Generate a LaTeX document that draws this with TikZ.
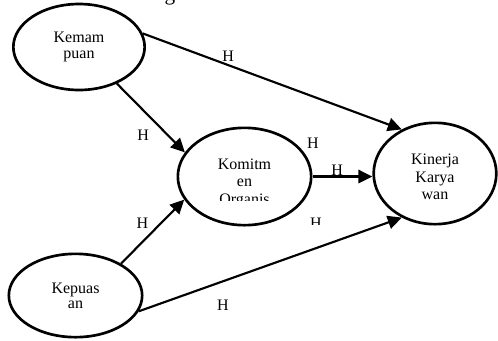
\documentclass[tikz,border=0pt]{standalone}
\usepackage{fontspec}
\setmainfont{Liberation Serif}
\usetikzlibrary{arrows.meta,positioning,shapes.geometric}

\begin{document}
\begin{tikzpicture}[x=0.75pt, y=-0.75pt, >={Triangle[length=10.5pt, width=10pt]},
  var/.style={draw, ellipse, line width=2pt, inner sep=0pt, align=center,
    font=\fontsize{12}{12.5}\selectfont},
  txt/.style={align=center, inner sep=0pt, font=\fontsize{12}{13.3}\selectfont},
  lbl/.style={font=\fontsize{12}{12}\selectfont, inner sep=2pt},
  link/.style={->, line width=1.6pt}]
\useasboundingbox (0,0) rectangle (498,340);
\clip (0,0) rectangle (498,340);
\node[font=\fontsize{16}{16}\selectfont, anchor=base, inner sep=0pt] (cap) at (170,0) {g};
\node[var, minimum width=98.5pt, minimum height=64.5pt] (kem) at (79,47) {Kemam\\puan};
\node[var, minimum width=100pt, minimum height=73pt] (kom) at (244.5,176.5) {};
\node[var, minimum width=92pt, minimum height=76pt] (kin) at (435,173.5) {};
\node[var, minimum width=100pt, minimum height=62.5pt,
  font=\fontsize{12}{11.5}\selectfont] (kep) at (75.5,295.5) {Kepuas\\an};
\node[txt] (kintxt) at ([yshift=-2.6pt]kin.center) {Kinerja\\Karya\\wan};
% text box of the middle one is cut off
\begin{scope}
\clip (150,120) rectangle (340,200);
\node[txt] (komtxt) at ([yshift=-5pt]kom.center) {Komitm\\en\\Organis};
\end{scope}
\draw[link] (kem.12) -- node[lbl, pos=.33, above] (ha) {H} (kin.127);
\draw[link] (kem.316) -- node[lbl, pos=.57, below left=2.3pt and 2.3pt] (hb) {H} (kom.158);
\draw[link] (kep.35) -- node[lbl, pos=.49, above left] (hc) {H} (kom.201);
\draw[link] (kep.346) -- node[lbl, pos=.32, below=11pt] (hd) {H} (kin.233);
\draw[link] (kom.east) -- node[lbl, pos=.41, above, inner sep=0pt] (he) {H} (kom.east -| kin.west);
\node[lbl] (hf) at (313,143) {H};
\begin{scope}
\clip (290,200) rectangle (340,224.3);
\node[lbl] (hg) at (316,223.3) {H};
\end{scope}
\end{tikzpicture}
\end{document}
